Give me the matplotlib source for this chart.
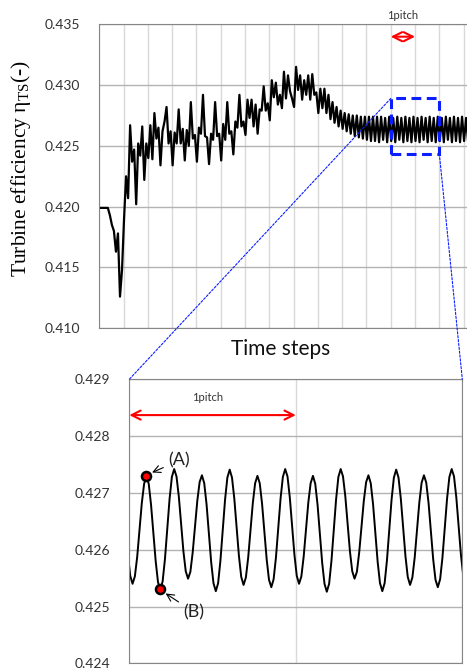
import numpy as np
import matplotlib
matplotlib.use("Agg")
import matplotlib.pyplot as plt
from matplotlib.patches import Rectangle, ConnectionPatch
from matplotlib.ticker import FormatStrFormatter

plt.rcParams['font.family'] = ['Lato', 'DejaVu Sans']
plt.rcParams['mathtext.fontset'] = 'custom'
plt.rcParams['mathtext.rm'] = 'Liberation Serif'
plt.rcParams['mathtext.it'] = 'Liberation Serif:italic'

# ---- data -------------------------------------------------------------
pitch_steps = 72          # time steps in one pitch (one grid interval)
n_pitches = 15.14         # visible length of the history plot, in pitches

# full history, one value every 6 steps (peaks / troughs), first at step 1.4
hist_t0 = 1.4
hist_dt = 6
hist_eff = [
    0.4199, 0.4199, 0.4199, 0.4199, 0.4199, 0.4193, 0.4185, 0.4180, 0.4163, 0.4178,
    0.4126, 0.4148, 0.4190, 0.4225, 0.4207, 0.4267, 0.4237, 0.4247, 0.4202, 0.4252,
    0.4242, 0.4266, 0.4222, 0.4252, 0.4240, 0.4267, 0.4239, 0.4277, 0.4256, 0.4265,
    0.4234, 0.4262, 0.4270, 0.4282, 0.4252, 0.4262, 0.4234, 0.4261, 0.4252, 0.4280,
    0.4252, 0.4264, 0.4238, 0.4263, 0.4250, 0.4286, 0.4256, 0.4259, 0.4237, 0.4265,
    0.4260, 0.4292, 0.4258, 0.4257, 0.4235, 0.4260, 0.4255, 0.4286, 0.4258, 0.4260,
    0.4238, 0.4268, 0.4255, 0.4286, 0.4260, 0.4262, 0.4243, 0.4270, 0.4265, 0.4292,
    0.4266, 0.4270, 0.4259, 0.4288, 0.4273, 0.4288, 0.4266, 0.4284, 0.4260, 0.4280,
    0.4279, 0.4299, 0.4279, 0.4285, 0.4271, 0.4304, 0.4290, 0.4302, 0.4284, 0.4292,
    0.4281, 0.4311, 0.4289, 0.4308, 0.4295, 0.4289, 0.4282, 0.4315, 0.4296, 0.4308,
    0.4288, 0.4304, 0.4292, 0.4308, 0.4288, 0.4309, 0.4292, 0.4294, 0.4277, 0.4297,
    0.4281, 0.4297, 0.4277, 0.4292, 0.4272, 0.4286, 0.4269, 0.4282, 0.4266, 0.4279,
    0.4264, 0.4277, 0.4262, 0.4276, 0.4260, 0.4275, 0.4258, 0.4275, 0.4257, 0.4274,
    0.4256, 0.4274, 0.4255, 0.4274, 0.4254, 0.4274, 0.4254, 0.4274, 0.4253, 0.4274,
    0.4255, 0.4273, 0.4253, 0.4274,
    0.4254, 0.4273, 0.4253, 0.4274, 0.4255, 0.4273, 0.4253, 0.4274, 0.4254, 0.4273, 0.4253, 0.4274,
    0.4254, 0.4273, 0.4253, 0.4274, 0.4255, 0.4273, 0.4253, 0.4274, 0.4254, 0.4273, 0.4253, 0.4274,
    0.4254, 0.4273, 0.4253, 0.4274, 0.4255, 0.4273, 0.4253, 0.4274, 0.4254, 0.4273, 0.4253, 0.4274,
    0.4254, 0.4273, 0.4253,
]

# zoomed window: two pitches, one value per step, first at step -4.6
zoom_start_pitch = 12
zoom_t0 = -4.6
zoom_eff = [
    0.42742, 0.42729, 0.42692, 0.42641, 0.42591, 0.42554,
    0.42540, 0.42553, 0.42587, 0.42635, 0.42682, 0.42716,
    0.42729, 0.42716, 0.42679, 0.42630, 0.42580, 0.42543,
    0.42530, 0.42544, 0.42583, 0.42636, 0.42689, 0.42728,
    0.42742, 0.42729, 0.42694, 0.42646, 0.42597, 0.42562,
    0.42549, 0.42561, 0.42595, 0.42640, 0.42686, 0.42719,
    0.42731, 0.42717, 0.42680, 0.42629, 0.42578, 0.42541,
    0.42527, 0.42541, 0.42581, 0.42634, 0.42688, 0.42727,
    0.42741, 0.42727, 0.42690, 0.42640, 0.42589, 0.42552,
    0.42538, 0.42551, 0.42586, 0.42634, 0.42682, 0.42717,
    0.42730, 0.42717, 0.42681, 0.42632, 0.42583, 0.42547,
    0.42534, 0.42548, 0.42586, 0.42638, 0.42690, 0.42728,
    0.42742, 0.42729, 0.42692, 0.42641, 0.42591, 0.42554,
    0.42540, 0.42553, 0.42588, 0.42635, 0.42683, 0.42717,
    0.42730, 0.42716, 0.42679, 0.42628, 0.42577, 0.42540,
    0.42526, 0.42540, 0.42580, 0.42634, 0.42688, 0.42728,
    0.42742, 0.42729, 0.42694, 0.42646, 0.42597, 0.42562,
    0.42549, 0.42561, 0.42595, 0.42640, 0.42686, 0.42719,
    0.42731, 0.42717, 0.42680, 0.42629, 0.42578, 0.42541,
    0.42527, 0.42541, 0.42581, 0.42634, 0.42688, 0.42727,
    0.42741, 0.42727, 0.42690, 0.42640, 0.42589, 0.42552,
    0.42538, 0.42551, 0.42586, 0.42635, 0.42683, 0.42718,
    0.42731, 0.42718, 0.42682, 0.42633, 0.42583, 0.42547,
    0.42534, 0.42548, 0.42586, 0.42638, 0.42690, 0.42728,
    0.42742, 0.42729, 0.42692, 0.42641, 0.42591, 0.42554,
    0.42540,
]

# points (A) and (B) in the zoomed window
mark_steps = [7.4, 13.4]
mark_eff = [0.42729, 0.42530]
mark_labels = ['(A)', '(B)']

top_yticks = [0.410, 0.415, 0.420, 0.425, 0.430, 0.435]
zoom_yticks = [0.424, 0.425, 0.426, 0.427, 0.428, 0.429]
zoom_box_eff = (0.42435, 0.42890)

# ---- figure -----------------------------------------------------------
fig = plt.figure(figsize=(4.67, 6.69), dpi=100)
ax1 = fig.add_axes([0.2126, 0.5093, 0.7874, 0.4544])
ax2 = fig.add_axes([0.2769, 0.00852, 0.7131, 0.4245])

spine_col = '#868686'
tick_col = '#333333'
blue = '#0a1eff'

hist_t = hist_t0 + hist_dt * np.arange(len(hist_eff))
ax1.plot(hist_t, hist_eff, color='black', lw=1.6)
ax1.set_xlim(0, n_pitches * pitch_steps)
ax1.set_ylim(top_yticks[0], top_yticks[-1])
ax1.set_xticks(np.arange(0, n_pitches * pitch_steps, pitch_steps))
ax1.set_xticklabels([])
ax1.set_yticks(top_yticks)
ax1.yaxis.set_major_formatter(FormatStrFormatter('%.3f'))
ax1.tick_params(length=0, pad=14, labelsize=10, labelcolor=tick_col)
ax1.xaxis.grid(True, color='#d9d9d9', lw=1)
ax1.yaxis.grid(True, color='#b3b3b3', lw=1)
ax1.set_axisbelow(True)
ax1.spines['right'].set_visible(False)
for s in ['left', 'bottom', 'top']:
    ax1.spines[s].set_color(spine_col)

# zoom window box in the history plot
z0 = zoom_start_pitch * pitch_steps
ax1.add_patch(Rectangle((z0, zoom_box_eff[0]), 2 * pitch_steps,
                        zoom_box_eff[1] - zoom_box_eff[0], fill=False,
                        edgecolor=blue, lw=2.2, linestyle=(0, (3.2, 1.8)), zorder=5))

# 1 pitch marker above history plot
ax1.annotate('', xy=(z0 + pitch_steps, 0.43398), xytext=(z0, 0.43398),
             arrowprops=dict(arrowstyle='<->,head_length=0.5,head_width=0.25',
                             color='red', lw=1.5, shrinkA=0, shrinkB=0,
                             mutation_scale=13))
ax1.text(z0 + pitch_steps / 2, 0.43576, '1pitch', fontsize=8, ha='center',
         va='center', color='#333333', clip_on=False)

# zoomed plot
zoom_t = zoom_t0 + np.arange(len(zoom_eff))
ax2.plot(zoom_t, zoom_eff, color='black', lw=1.4)
ax2.plot(mark_steps, mark_eff, 'o', ms=6.5, mfc='red', mec='black', mew=1.8, zorder=5)
ax2.set_xlim(0, 2 * pitch_steps)
ax2.set_ylim(zoom_yticks[0], zoom_yticks[-1])
ax2.set_xticks([0, pitch_steps, 2 * pitch_steps])
ax2.set_xticklabels([])
ax2.set_yticks(zoom_yticks)
ax2.yaxis.set_major_formatter(FormatStrFormatter('%.3f'))
ax2.tick_params(length=0, pad=14, labelsize=10, labelcolor=tick_col)
ax2.xaxis.grid(True, color='#d9d9d9', lw=1)
ax2.yaxis.grid(True, color='#b3b3b3', lw=1)
ax2.set_axisbelow(True)
for s in ax2.spines.values():
    s.set_color(spine_col)

ax2.annotate('', xy=(pitch_steps, 0.42837), xytext=(0, 0.42837),
             arrowprops=dict(arrowstyle='<->,head_length=0.5,head_width=0.25',
                             color='red', lw=1.5, shrinkA=0, shrinkB=0,
                             mutation_scale=13))
ax2.text(34, 0.42858, '1pitch', fontsize=8, ha='center', va='bottom', color='#333333')

ax2.annotate(mark_labels[0], xy=(mark_steps[0] + 0.8, mark_eff[0] + 0.00004),
             xytext=(17.0, 0.42757), fontsize=13, ha='left', va='center', color='#222222',
             arrowprops=dict(arrowstyle='->', color='black', lw=0.8, shrinkA=2, shrinkB=3))
ax2.annotate(mark_labels[1], xy=(mark_steps[1] + 0.8, mark_eff[1] - 0.00003),
             xytext=(23.5, 0.42490), fontsize=13, ha='left', va='center', color='#222222',
             arrowprops=dict(arrowstyle='->', color='black', lw=0.8, shrinkA=2, shrinkB=3))

# lines joining the box to the zoomed plot
for pa, pb in [((z0, zoom_box_eff[1]), (0, zoom_yticks[-1])),
               ((z0 + 2 * pitch_steps, zoom_box_eff[0]), (2 * pitch_steps, zoom_yticks[-1]))]:
    con = ConnectionPatch(xyA=pa, coordsA=ax1.transData, xyB=pb, coordsB=ax2.transData,
                          color=blue, lw=0.8, linestyle=(0, (2, 1.5)))
    fig.add_artist(con)

fig.text(281 / 467, 1 - 349 / 669, 'Time steps', fontsize=15, ha='center', va='center',
         color='#111111')
fig.text(21 / 467, 1 - 169 / 669, 'Turbine efficiency η$_{\\mathrm{TS}}$(-)',
         family='Liberation Serif', fontsize=15.5, rotation=90, ha='center', va='center')

fig.savefig('out.png', dpi=100)
